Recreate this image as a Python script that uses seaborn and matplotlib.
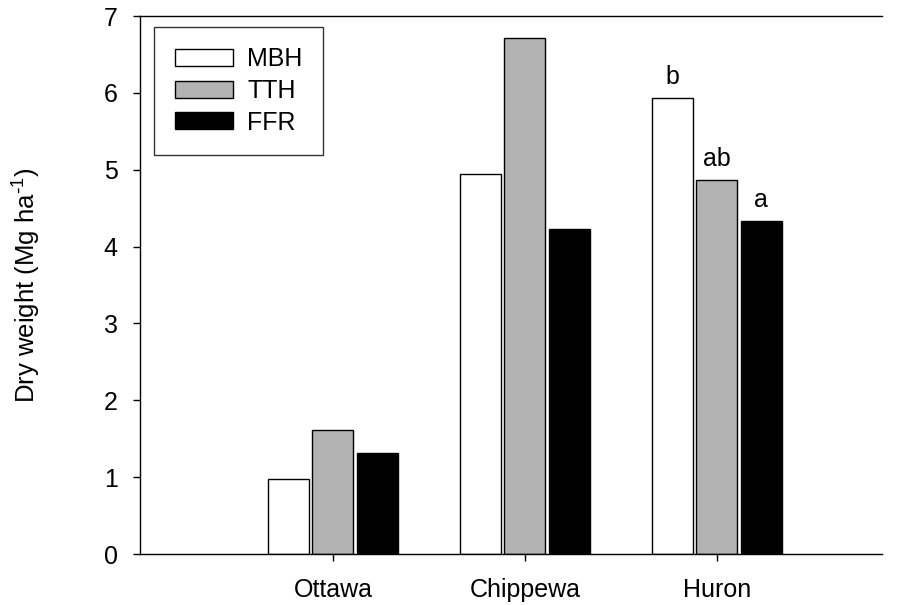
import pandas as pd
import matplotlib.pyplot as plt
import seaborn as sns

# Data
sites = ['Ottawa', 'Chippewa', 'Huron']
treatments = ['MBH', 'TTH', 'FFR']
mbh = [0.98, 4.95, 5.93]
tth = [1.61, 6.71, 4.86]
ffr = [1.31, 4.23, 4.33]
huron_letters = ['b', 'ab', 'a']

sns.set_theme(style='white')
plt.rcParams['font.family'] = ['Liberation Sans', 'DejaVu Sans']
plt.rcParams['mathtext.default'] = 'regular'
plt.rcParams['text.color'] = 'black'
plt.rcParams['axes.labelcolor'] = 'black'
plt.rcParams['xtick.color'] = 'black'
plt.rcParams['ytick.color'] = 'black'

df = pd.DataFrame({
    'site': sites * 3,
    'treatment': [t for t in treatments for _ in sites],
    'dry_weight': mbh + tth + ffr,
})

fig = plt.figure(figsize=(9.01, 6.05), dpi=100)
ax = fig.add_axes([140 / 901, 51 / 605, 742 / 901, 538 / 605])

sns.barplot(data=df, x='site', y='dry_weight', hue='treatment',
            order=sites, hue_order=treatments,
            palette=['white', '#b3b3b3', 'black'],
            edgecolor='black', linewidth=1.0,
            width=0.69, gap=0.07, errorbar=None, ax=ax)

# significance letters over the Huron bars
for cont, letter in zip(ax.containers, huron_letters):
    bar = cont.patches[2]
    ax.text(bar.get_x() + bar.get_width() / 2, bar.get_height() + 0.12, letter,
            ha='center', va='bottom', fontsize=18, color='black')

ax.set_xlim(-1.005, 2.86)
ax.set_ylim(0, 7)
ax.set_yticks(range(8))
ax.set_xlabel('')
ax.set_ylabel('Dry weight (Mg ha$^{\\text{-}1}$)', fontsize=18.5, labelpad=44)

for side in ['top', 'bottom', 'left']:
    ax.spines[side].set_visible(True)
    ax.spines[side].set_color('black')
    ax.spines[side].set_linewidth(1.0)
ax.spines['right'].set_visible(False)

ax.tick_params(axis='both', which='major', labelsize=18, direction='out',
               length=5, width=1, color='black', labelcolor='black',
               bottom=True, left=True)
ax.tick_params(axis='y', pad=11)
ax.tick_params(axis='x', pad=12)

leg = ax.legend(loc='upper left', bbox_to_anchor=(14 / 742, 1 - 11 / 538),
                fontsize=18, frameon=True, fancybox=False, edgecolor='black',
                handlelength=2.35, handleheight=0.65, labelspacing=0.3,
                handletextpad=0.55, borderpad=0.82, borderaxespad=0)
leg.get_frame().set_linewidth(1.0)

plt.savefig('out.png', dpi=100)
plt.close()
